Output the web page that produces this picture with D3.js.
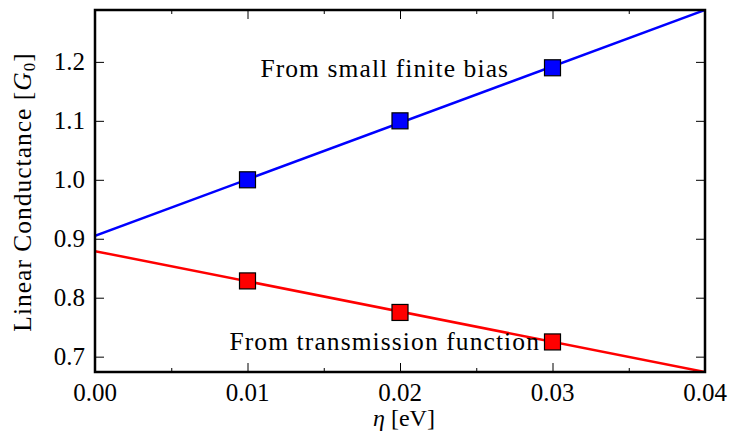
<!DOCTYPE html>
<html>
<head>
<meta charset="utf-8">
<script src="https://cdn.jsdelivr.net/npm/d3@7"></script>
<style>
  body { margin: 0; background: #fff; }
  text { font-family: "Liberation Serif", "DejaVu Serif", serif; fill: #000; }
</style>
</head>
<body>
<svg id="chart" width="730" height="440"></svg>
<script>
// measured points
var eta = [0.01, 0.02, 0.03]
var biasG = [1.0, 1.1, 1.19]
var transG = [0.8285, 0.775, 0.725]

// fitted lines (end points)
var fitEta = [0.0, 0.04]
var biasFit = [0.905, 1.288]
var transFit = [0.879, 0.674]

var xTicks = [0.00, 0.01, 0.02, 0.03, 0.04]
var xMinor = [0.005, 0.015, 0.025, 0.035]
var yTicks = [0.7, 0.8, 0.9, 1.0, 1.1, 1.2]

var padL = 95, padR = 705, padT = 10, padB = 372

var svg = d3.select("#chart")

var x = d3.scaleLinear()
    .domain([0, 0.04])
    .range([padL, padR])

var y = d3.scaleLinear()
    .domain(d3.extent(biasFit.concat(transFit)))
    .range([padB, padT])

svg.append("clipPath").attr("id", "clip")
    .append("rect")
    .attr("x", padL).attr("y", padT)
    .attr("width", padR - padL).attr("height", padB - padT)

var plot = svg.append("g").attr("clip-path", "url(#clip)")

var line = d3.line()
    .x(d => x(d[0]))
    .y(d => y(d[1]))

var series = [
    {color: "#0000ff", fit: biasFit, pts: biasG},
    {color: "#ff0000", fit: transFit, pts: transG}
]

series.forEach(s => {
    plot.append("path")
        .attr("d", line(fitEta.map((e, i) => [e, s.fit[i]])))
        .attr("fill", "none")
        .attr("stroke", s.color)
        .attr("stroke-width", 2.5)
})

// ticks, inward, on all four sides
svg.append("g")
    .attr("transform", "translate(0," + padB + ")")
    .call(d3.axisBottom(x).tickValues(xTicks).tickSize(-9).tickFormat(""))
svg.append("g")
    .attr("transform", "translate(0," + padB + ")")
    .call(d3.axisBottom(x).tickValues(xMinor).tickSize(-4).tickFormat(""))
svg.append("g")
    .attr("transform", "translate(0," + padT + ")")
    .call(d3.axisTop(x).tickValues(xTicks).tickSize(-9).tickFormat(""))
svg.append("g")
    .attr("transform", "translate(0," + padT + ")")
    .call(d3.axisTop(x).tickValues(xMinor).tickSize(-4).tickFormat(""))
svg.append("g")
    .attr("transform", "translate(" + padL + ",0)")
    .call(d3.axisLeft(y).tickValues(yTicks).tickSize(-9).tickFormat(""))
svg.append("g")
    .attr("transform", "translate(" + padR + ",0)")
    .call(d3.axisRight(y).tickValues(yTicks).tickSize(-9).tickFormat(""))

svg.selectAll(".domain").remove()
svg.selectAll(".tick line").attr("stroke", "#000").attr("stroke-width", 1)

var sz = 16
series.forEach(s => {
    svg.selectAll(null)
        .data(eta.map((e, i) => [e, s.pts[i]])).enter()
        .append("rect")
        .attr("x", d => x(d[0]) - sz / 2)
        .attr("y", d => y(d[1]) - sz / 2)
        .attr("width", sz)
        .attr("height", sz)
        .attr("fill", s.color)
        .style("stroke", "black")
        .style("stroke-width", "1.2px")
})

var fmtX = d3.format(".2f"), fmtY = d3.format(".1f")

// tick labels
svg.selectAll(".xlab")
    .data(xTicks).enter()
    .append("text")
    .attr("x", d => x(d))
    .attr("y", 401)
    .attr("text-anchor", "middle")
    .style("font-size", "25px")
    .text(d => fmtX(d))

svg.selectAll(".ylab")
    .data(yTicks).enter()
    .append("text")
    .attr("x", 85)
    .attr("y", d => y(d))
    .attr("dy", "0.33em")
    .attr("text-anchor", "end")
    .style("font-size", "25px")
    .text(d => fmtY(d))

// frame
svg.append("rect")
    .attr("x", padL).attr("y", padT)
    .attr("width", padR - padL).attr("height", padB - padT)
    .attr("fill", "none")
    .attr("stroke", "#000")
    .attr("stroke-width", 2.5)

// annotations
svg.append("text")
    .attr("x", x(0.019)).attr("y", y(1.174))
    .attr("text-anchor", "middle")
    .style("font-size", "25.5px")
    .style("letter-spacing", "1.1px")
    .text("From small finite bias")

svg.append("text")
    .attr("x", x(0.019)).attr("y", y(0.711))
    .attr("text-anchor", "middle")
    .style("font-size", "25.5px")
    .style("letter-spacing", "1.1px")
    .text("From transmission function")

// axis titles
var xt = svg.append("text")
    .attr("x", 404).attr("y", 426)
    .attr("text-anchor", "middle")
    .style("font-size", "24px")
xt.append("tspan").style("font-style", "italic").text("η")
xt.append("tspan").text(" [eV]")

var yt = svg.append("text")
    .attr("transform", "translate(31,192) rotate(-90)")
    .attr("text-anchor", "middle")
    .style("font-size", "25.5px")
    .style("letter-spacing", "1px")
yt.append("tspan").text("Linear Conductance [")
yt.append("tspan").style("font-style", "italic").text("G")
yt.append("tspan").attr("baseline-shift", "-25%").style("font-size", "17px").text("0")
yt.append("tspan").text("]")
</script>
</body>
</html>
